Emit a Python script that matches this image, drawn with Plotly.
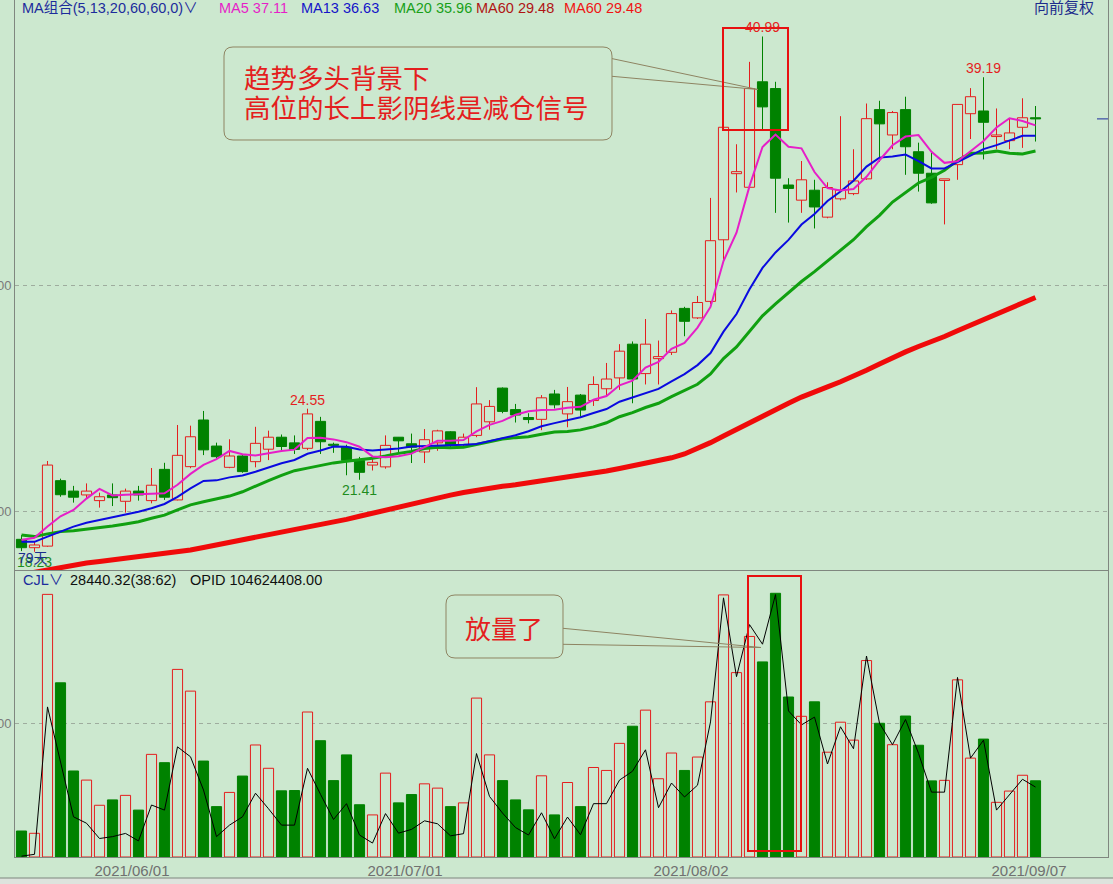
import plotly.graph_objects as go
import pandas as pd

# ---------------- data ----------------
tick_idx = [9, 30, 52, 78]
tick_text = ["2021/06/01", "2021/07/01", "2021/08/02", "2021/09/07"]

opens = [18.78, 18.41, 18.48, 21.37, 20.91, 20.74, 20.49, 20.74, 20.46, 20.91,
         20.49, 21.87, 20.52, 21.99, 24.05, 22.90, 21.96, 22.46, 22.21, 22.76,
         23.29, 23.04, 22.80, 23.99, 22.98, 22.85, 22.26, 22.06, 21.98, 23.29,
         23.00, 22.64, 23.04, 23.53, 22.96, 23.37, 23.97, 25.46, 24.51, 24.16,
         24.08, 25.20, 24.32, 25.15, 24.91, 25.43, 25.91, 27.40, 26.10, 26.76,
         27.04, 28.98, 28.56, 29.29, 32.01, 34.93, 34.33, 38.99, 38.69, 34.43,
         33.76, 34.20, 33.01, 33.82, 34.05, 34.70, 37.76, 36.64, 37.76, 35.90,
         34.95, 34.63, 35.33, 37.58, 37.70, 36.57, 36.39, 36.98, 37.40]
highs = [18.97, 18.67, 22.24, 21.46, 21.14, 21.25, 20.84, 21.25, 21.02, 21.14,
         21.93, 22.16, 23.83, 23.80, 24.45, 23.05, 23.20, 22.50, 23.75, 23.58,
         23.41, 23.37, 24.55, 24.19, 23.05, 22.96, 22.42, 22.39, 23.37, 23.30,
         23.45, 23.65, 23.62, 23.56, 23.45, 25.50, 24.93, 25.49, 24.76, 24.35,
         25.15, 25.38, 25.51, 25.20, 25.98, 26.57, 27.40, 27.52, 28.51, 27.56,
         28.89, 29.05, 29.53, 33.86, 36.98, 36.23, 39.87, 40.99, 38.99, 34.73,
         35.49, 34.66, 34.55, 37.47, 36.01, 38.03, 38.15, 37.70, 38.33, 36.30,
         35.85, 34.70, 37.99, 38.71, 39.19, 37.81, 37.36, 38.26, 37.92]
lows = [18.26, 18.23, 18.45, 20.66, 20.40, 20.59, 20.18, 20.25, 19.96, 20.49,
        20.37, 20.52, 20.50, 21.92, 22.50, 22.31, 21.92, 21.72, 21.96, 22.28,
        22.72, 22.55, 22.72, 22.55, 22.60, 21.61, 21.41, 21.82, 21.90, 22.55,
        22.15, 22.15, 22.69, 22.85, 22.88, 23.29, 23.62, 24.35, 23.94, 23.90,
        23.60, 24.56, 23.73, 24.20, 24.67, 25.15, 25.38, 24.79, 25.62, 25.62,
        26.92, 27.75, 28.51, 29.17, 31.06, 34.10, 34.33, 36.86, 33.20, 32.77,
        33.20, 32.51, 32.96, 33.75, 33.98, 34.66, 35.45, 36.01, 34.88, 34.14,
        33.60, 32.69, 34.66, 36.46, 35.56, 36.01, 36.01, 36.07, 36.35]
closes = [18.41, 18.53, 22.06, 20.75, 20.64, 20.91, 20.66, 20.62, 20.91, 20.74,
          21.17, 20.64, 22.49, 23.31, 22.73, 22.43, 22.46, 21.77, 23.02, 23.29,
          22.88, 22.75, 24.32, 23.09, 22.93, 22.27, 21.74, 22.18, 22.93, 23.13,
          22.85, 23.18, 23.57, 22.92, 23.29, 24.76, 24.65, 24.43, 24.27, 24.07,
          25.03, 24.72, 24.86, 24.49, 25.62, 25.86, 27.09, 25.86, 27.40, 26.85,
          28.75, 28.41, 29.24, 31.97, 36.98, 35.02, 38.69, 37.88, 34.73, 34.28,
          34.66, 33.46, 34.32, 34.20, 34.61, 37.36, 37.13, 37.63, 36.12, 34.95,
          33.64, 34.70, 37.99, 38.33, 37.20, 36.64, 36.73, 37.40, 37.35]
volumes = [9700, 8840, 98000, 65000, 32100, 28700, 19300, 21300, 23000, 17500,
           38300, 35200, 70000, 61900, 35800, 18800, 24100, 30200, 41800, 33100,
           24700, 24800, 54100, 43400, 28500, 38100, 19500, 15700, 31300, 20200,
           23300, 27300, 25700, 18800, 20200, 59300, 38100, 28500, 21300, 17600,
           30300, 15700, 27800, 18800, 33400, 32300, 42400, 48800, 54800, 29200,
           38800, 32300, 37300, 57900, 97800, 68800, 82300, 72800, 98400, 59700,
           52500, 57900, 39100, 50300, 43600, 73300, 49900, 41900, 52600, 41700,
           28400, 28600, 66100, 36900, 44000, 20400, 24600, 30500, 28440]
opid = [300, 1000, 56000, 36000, 15000, 12600, 6900, 7600, 8800, 6000,
        19400, 17500, 41100, 37400, 25000, 7600, 11900, 15000, 23800, 18000,
        11900, 11900, 33100, 23400, 14000, 19900, 8200, 5200, 16200, 8900,
        10300, 13500, 12400, 7900, 8700, 38600, 22600, 16400, 11000, 8200,
        16500, 6800, 14900, 8300, 19900, 19900, 28700, 32000, 40000, 18400,
        27600, 22400, 26800, 50400, 96700, 67300, 86700, 79400, 97900, 54500,
        49300, 52200, 34700, 48600, 40400, 75000, 49900, 41900, 51300, 38700,
        24200, 24200, 67000, 36900, 43600, 17500, 23200, 29000, 26100]

# moving-average values visible before enough closes are on screen
ma5_head = [18.75, 18.85, 19.35, 19.80]
ma13_head = [18.67, 18.67, 18.90, 19.12, 19.34, 19.51, 19.63, 19.75, 19.89, 20.00, 20.15, 20.34]
ma20_head = [18.97, 18.90, 19.02, 19.12, 19.16, 19.22, 19.29, 19.37, 19.46, 19.56,
             19.71, 19.85, 20.08, 20.30, 20.44, 20.55, 20.69, 20.88, 21.14]
ma60_head = [17.22, 17.33, 17.45, 17.55, 17.65, 17.73, 17.80, 17.87, 17.93, 17.99,
             18.06, 18.14, 18.22, 18.31, 18.42, 18.53, 18.64, 18.75, 18.85, 18.95,
             19.06, 19.17, 19.28, 19.40, 19.53, 19.66, 19.80, 19.94, 20.08, 20.22,
             20.36, 20.49, 20.61, 20.73, 20.85, 20.95, 21.04, 21.12, 21.19, 21.27,
             21.35, 21.43, 21.51, 21.60, 21.70, 21.80, 21.91, 22.02, 22.13, 22.25,
             22.38, 22.55, 22.78, 23.05, 23.34, 23.64, 23.94, 24.23, 24.51]

legend_names = ["MA5", "MA13", "MA20", "MA60", "MA60"]
legend_vals = ["37.11", "36.63", "35.96", "29.48", "29.48"]
ma_group_text = "MA组合(5,13,20,60,60,0)"
cjl_text = "28440.32(38:62)"
opid_text = "OPID 104624408.00"
hi_label_idx = [22, 57, 74]
lo_label_idx = [1, 26]

# ---------------- styling ----------------
BG = "#CCE8CF"
RED = "#E41E1E"
GREEN = "#008200"
AX = "#7F877F"
GRID = "#9EAC9E"
FONT = "Liberation Sans, Noto Sans CJK SC, sans-serif"
CJK = "Noto Sans CJK SC, sans-serif"
W, H = 1113, 884
ML, MR, MT, MB = 15, 5, 0, 27
PW, PH = W - ML - MR, H - MT - MB


def px(x):
    return (x - ML) / PW


def py(y):
    return (MT + PH - y) / PH


n = len(closes)
x = list(range(n))
s = pd.Series(closes)


def ma(w, head):
    r = s.rolling(w).mean().tolist()
    return head + r[len(head):]


ma5 = ma(5, ma5_head)
ma13 = ma(13, ma13_head)
ma20 = ma(20, ma20_head)
ma60 = ma(60, ma60_head)

up = [c >= o for o, c in zip(opens, closes)]
body_base = [min(o, c) for o, c in zip(opens, closes)]
body_h = [max(abs(c - o), 0.02) for o, c in zip(opens, closes)]

fig = go.Figure()

# candle bodies
fig.add_trace(go.Bar(
    x=x, y=body_h, base=body_base, width=0.78,
    marker=dict(color=[BG if u else GREEN for u in up],
                line=dict(color=[RED if u else GREEN for u in up], width=1)),
    xaxis="x", yaxis="y", hoverinfo="skip"))


def wicks(flag):
    xs, ys = [], []
    for i in range(n):
        if up[i] != flag:
            continue
        top = max(opens[i], closes[i])
        bot = min(opens[i], closes[i])
        if highs[i] > top:
            xs += [i, i, None]
            ys += [highs[i], top, None]
        if lows[i] < bot:
            xs += [i, i, None]
            ys += [bot, lows[i], None]
    return xs, ys


for flag, col in [(True, RED), (False, GREEN)]:
    wx, wy = wicks(flag)
    fig.add_trace(go.Scatter(x=wx, y=wy, mode="lines", line=dict(color=col, width=1),
                             xaxis="x", yaxis="y", hoverinfo="skip"))

# moving averages
for vals, col, wd in [(ma60, "#F00A0A", 5), (ma20, "#10A010", 3), (ma13, "#0A0AE0", 2),
                      (ma5, "#E61EC8", 2)]:
    fig.add_trace(go.Scatter(x=x, y=vals, mode="lines", line=dict(color=col, width=wd),
                             xaxis="x", yaxis="y", hoverinfo="skip"))

# volume
fig.add_trace(go.Bar(
    x=x, y=volumes, width=0.78,
    marker=dict(color=[BG if u else GREEN for u in up],
                line=dict(color=[RED if u else GREEN for u in up], width=1)),
    xaxis="x", yaxis="y2", hoverinfo="skip"))
fig.add_trace(go.Scatter(x=x, y=opid, mode="lines", line=dict(color="#000000", width=1),
                         xaxis="x", yaxis="y2", hoverinfo="skip"))

split = (MT + PH - 571) / PH
ppx = 22.64
price_lo = 20 - (571 - 511.7) / ppx
price_hi = 20 + (511.7 - MT) / ppx
vol_per_px = 50000 / 134.0
vol_hi = (857 - 571) * vol_per_px
x_lo = -0.5
x_hi = x_lo + PW / 13.0

axis_common = dict(showline=True, linecolor=AX, linewidth=1, mirror=True, zeroline=False,
                   ticks="", automargin=False, fixedrange=True)

fig.update_layout(
    width=W, height=H, template="none",
    margin=dict(l=ML, r=MR, t=MT, b=MB, pad=0),
    paper_bgcolor=BG, plot_bgcolor=BG, showlegend=False, barmode="overlay",
    font=dict(family=FONT),
    xaxis=dict(range=[x_lo, x_hi], anchor="y2", tickvals=[t - 0.5 for t in tick_idx],
               ticktext=tick_text, showgrid=False,
               tickfont=dict(size=15, color="#707070", family=FONT),
               rangeslider=dict(visible=False), **axis_common),
    yaxis=dict(domain=[split, 1], range=[price_lo, price_hi], anchor="x",
               tickvals=[20, 30], ticktext=["20.00", "30.00"], showgrid=True,
               gridcolor=GRID, griddash="4px,4px", gridwidth=1,
               tickfont=dict(size=13, color="#7A7A7A", family=FONT), **axis_common),
    yaxis2=dict(domain=[0, split], range=[0, vol_hi], anchor="x",
                tickvals=[50000], ticktext=["50000"], showgrid=True,
                gridcolor=GRID, griddash="4px,4px", gridwidth=1,
                tickfont=dict(size=13, color="#7A7A7A", family=FONT), **axis_common),
)

ann = []
# top legend
ann.append(dict(x=px(20), y=py(8), xref="paper", yref="paper", xanchor="left", yanchor="middle",
                text=ma_group_text + "∨", showarrow=False,
                font=dict(size=14.5, color="#1C2C9C", family=FONT)))
leg_x = [217, 299, 392, 474, 562]
leg_col = ["#E61EC8", "#1414C8", "#18A018", "#B01414", "#F01414"]
for nm, v, lx, c in zip(legend_names, legend_vals, leg_x, leg_col):
    ann.append(dict(x=px(lx), y=py(8), xref="paper", yref="paper", xanchor="left",
                    yanchor="middle", text=f"{nm} {v}", showarrow=False,
                    font=dict(size=14.5, color=c, family=FONT)))
ann.append(dict(x=px(1096), y=py(7), xref="paper", yref="paper", xanchor="right",
                yanchor="middle", text="向前复权", showarrow=False,
                font=dict(size=15, color="#1C2C8C", family=CJK)))

# volume legend
ann.append(dict(x=px(21), y=py(580), xref="paper", yref="paper", xanchor="left", yanchor="middle",
                text="CJL∨", showarrow=False, font=dict(size=14.5, color="#1C2C9C", family=FONT)))
ann.append(dict(x=px(68), y=py(580), xref="paper", yref="paper", xanchor="left", yanchor="middle",
                text=cjl_text, showarrow=False, font=dict(size=14.5, color="#101010", family=FONT)))
ann.append(dict(x=px(188), y=py(580), xref="paper", yref="paper", xanchor="left", yanchor="middle",
                text=opid_text, showarrow=False, font=dict(size=14.5, color="#101010", family=FONT)))

# high / low labels
for i in hi_label_idx:
    ann.append(dict(x=i, y=highs[i], xref="x", yref="y", xanchor="center", yanchor="bottom",
                    text=f"{highs[i]:.2f}", showarrow=False, yshift=-1,
                    font=dict(size=14, color=RED, family=FONT)))
for i in lo_label_idx:
    ann.append(dict(x=i, y=lows[i], xref="x", yref="y", xanchor="center", yanchor="top",
                    text=f"{lows[i]:.2f}", showarrow=False, yshift=0,
                    font=dict(size=14, color="#1E8C1E", family=FONT)))
ann.append(dict(x=px(16), y=py(558), xref="paper", yref="paper", xanchor="left", yanchor="middle",
                text=f"{n}天", showarrow=False, font=dict(size=14, color="#1C2C8C", family=FONT)))

# callout texts
ann.append(dict(x=px(242), y=py(76), xref="paper", yref="paper", xanchor="left", yanchor="middle",
                text="趋势多头背景下", showarrow=False, font=dict(size=26.5, color=RED, family=CJK)))
ann.append(dict(x=px(242), y=py(107), xref="paper", yref="paper", xanchor="left", yanchor="middle",
                text="高位的长上影阴线是减仓信号", showarrow=False,
                font=dict(size=26.5, color=RED, family=CJK)))
ann.append(dict(x=px(463), y=py(627), xref="paper", yref="paper", xanchor="left", yanchor="middle",
                text="放量了", showarrow=False, font=dict(size=26, color=RED, family=CJK)))


def rr_path(x0, y0, x1, y1, r):
    pts = [("M", x0 + r, y0), ("L", x1 - r, y0), ("Q", x1, y0, x1, y0 + r), ("L", x1, y1 - r),
           ("Q", x1, y1, x1 - r, y1), ("L", x0 + r, y1), ("Q", x0, y1, x0, y1 - r),
           ("L", x0, y0 + r), ("Q", x0, y0, x0 + r, y0)]
    out = []
    for p in pts:
        cmd = p[0]
        coords = p[1:]
        cs = []
        for k in range(0, len(coords), 2):
            cs.append(f"{px(coords[k]):.5f},{py(coords[k + 1]):.5f}")
        out.append(cmd + " " + " ".join(cs))
    return " ".join(out) + " Z"


BOX = "#8E8462"
shapes = []
shapes.append(dict(type="path", xref="paper", yref="paper", path=rr_path(224, 47, 612, 140, 9),
                   line=dict(color=BOX, width=1)))
shapes.append(dict(type="path", xref="paper", yref="paper", path=rr_path(446, 595, 563, 658, 9),
                   line=dict(color=BOX, width=1)))
for (x0, y0, x1, y1) in [(612, 58.6, 758, 89.5), (612, 76.3, 758, 89.5),
                         (563, 628.3, 761, 647.5), (563, 644.3, 761, 647.5)]:
    shapes.append(dict(type="line", xref="paper", yref="paper", x0=px(x0), y0=py(y0),
                       x1=px(x1), y1=py(y1), line=dict(color=BOX, width=1)))
# red highlight rectangles
shapes.append(dict(type="rect", xref="paper", yref="paper", x0=px(723), y0=py(28), x1=px(788),
                   y1=py(130), line=dict(color="#E81010", width=2)))
shapes.append(dict(type="rect", xref="paper", yref="paper", x0=px(748), y0=py(576), x1=px(801),
                   y1=py(851), line=dict(color="#E81010", width=2)))
# last-price marker on right edge
shapes.append(dict(type="line", xref="paper", yref="y", x0=px(1097), x1=1.0,
                   y0=closes[-1], y1=closes[-1], line=dict(color="#1C2C9C", width=1)))
# bottom frame
shapes.append(dict(type="rect", xref="paper", yref="paper", x0=-0.02, x1=1.01,
                   y0=py(884), y1=py(878), line=dict(width=0), fillcolor="#DDE3DD"))
shapes.append(dict(type="line", xref="paper", yref="paper", x0=-0.02, x1=1.01,
                   y0=py(878), y1=py(878), line=dict(color=AX, width=1)))

fig.update_layout(annotations=ann, shapes=shapes)
fig.write_html("out.html")
